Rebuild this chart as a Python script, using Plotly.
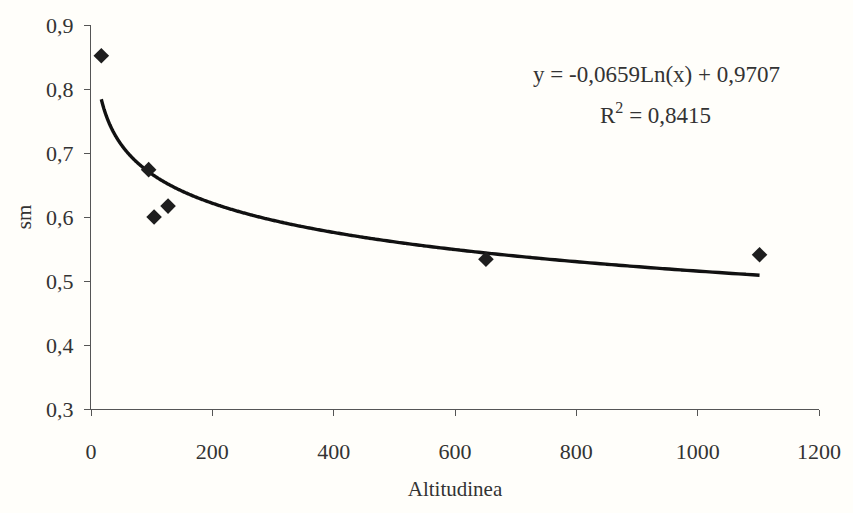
import numpy as np
import plotly.graph_objects as go

# Data
altitude = [17, 95, 104, 127, 651, 1102]
sm_values = [0.852, 0.674, 0.600, 0.617, 0.534, 0.541]

# Trend line coefficients (from the chart annotation)
coef_a = -0.0659
coef_b = 0.9707
r_squared = 0.8415

x_ticks = [0, 200, 400, 600, 800, 1000, 1200]
y_ticks = [0.3, 0.4, 0.5, 0.6, 0.7, 0.8, 0.9]
y_tick_labels = ["0,3", "0,4", "0,5", "0,6", "0,7", "0,8", "0,9"]

trend_x = np.geomspace(min(altitude), max(altitude), 400)
trend_y = coef_a * np.log(trend_x) + coef_b

font_family = "Liberation Serif"
text_col = "#333333"

fig = go.Figure()
fig.add_trace(go.Scatter(
    x=trend_x, y=trend_y, mode="lines",
    line=dict(color="#111111", width=3.4, shape="spline"),
    showlegend=False, hoverinfo="skip"))
fig.add_trace(go.Scatter(
    x=altitude, y=sm_values, mode="markers",
    marker=dict(symbol="diamond", size=12, color="#1e1e1e"),
    showlegend=False))

fig.add_annotation(
    x=932, y=0.822, xref="x", yref="y",
    text="y = -0,0659Ln(x) + 0,9707", showarrow=False,
    font=dict(family=font_family, size=23, color=text_col),
    xanchor="center", yanchor="middle")
fig.add_annotation(
    x=930, y=0.7625, xref="x", yref="y",
    text="R<sup>2</sup> = 0,8415", showarrow=False,
    font=dict(family=font_family, size=23, color=text_col),
    xanchor="center", yanchor="middle")

fig.update_layout(
    width=853, height=513,
    margin=dict(l=91, r=25, t=25, b=104),
    paper_bgcolor="#fffefa", plot_bgcolor="#fffefa",
    font=dict(family=font_family, size=22, color=text_col),
    xaxis=dict(
        range=[0, 1200], tickvals=x_ticks, ticktext=[str(v) for v in x_ticks],
        showgrid=False, zeroline=False, showline=True, linecolor="#555555",
        linewidth=1.3, ticks="outside", ticklen=6, tickcolor="#555555",
        ticklabelstandoff=16,
        title=dict(text="Altitudinea", font=dict(size=21), standoff=18)),
    yaxis=dict(
        range=[0.3, 0.9], tickvals=y_ticks, ticktext=y_tick_labels,
        showgrid=False, zeroline=False, showline=True, linecolor="#555555",
        linewidth=1.3, ticks="outside", ticklen=6, tickcolor="#555555",
        ticklabelstandoff=6,
        title=dict(text="sm", font=dict(size=21), standoff=8)),
)

fig.write_html("out.html")
